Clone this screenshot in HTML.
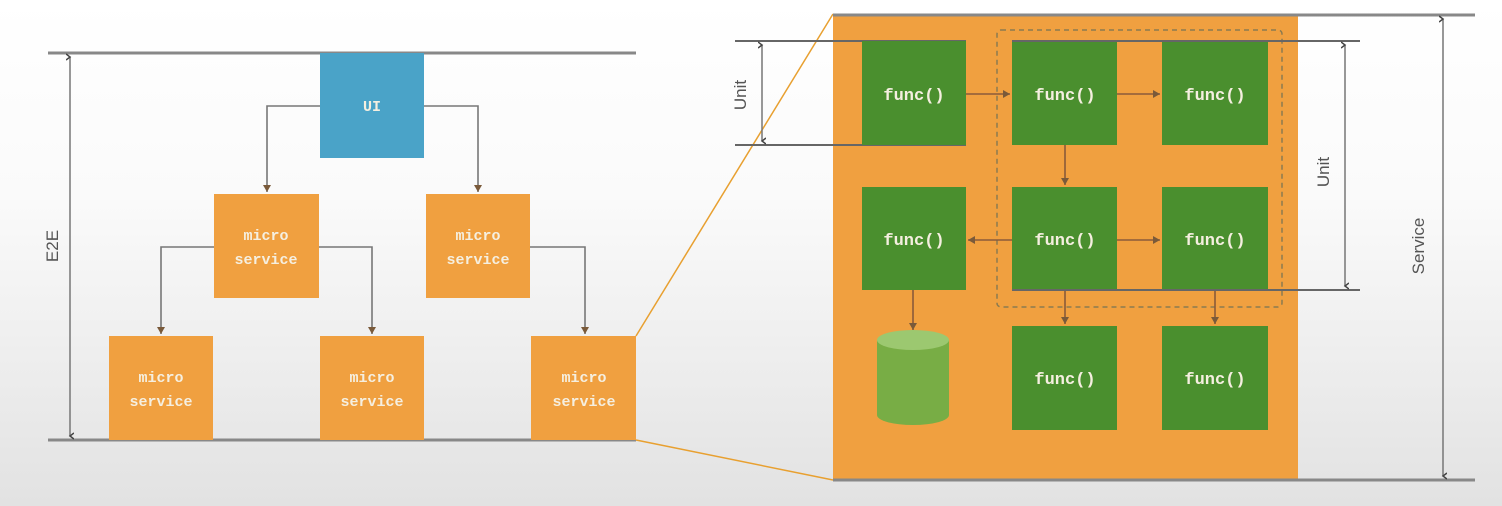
<!DOCTYPE html>
<html><head><meta charset="utf-8"><style>
html,body{margin:0;padding:0;width:1502px;height:506px;overflow:hidden}
body{background:linear-gradient(#ffffff 0%,#fafafa 40%,#e2e2e2 100%)}
svg{display:block}
.mono{font-family:"Liberation Mono",monospace;font-weight:bold;fill:#f5efe0}
.sans{font-family:"Liberation Sans",sans-serif;fill:#555}
</style></head><body>
<svg width="1502" height="506" viewBox="0 0 1502 506">
<defs>
<marker id="a" markerWidth="8" markerHeight="8" refX="4" refY="7" orient="auto-start-reverse" markerUnits="userSpaceOnUse"><path d="M0,0 L4,7 L8,0" fill="none" stroke="#666" stroke-width="1.5"/></marker>
<marker id="g" markerWidth="8" markerHeight="8" refX="7" refY="4" orient="auto" markerUnits="userSpaceOnUse"><path d="M0,0 L7,4 L0,8 Z" fill="#7a5a3a"/></marker>
<marker id="d" markerWidth="8" markerHeight="8" refX="4" refY="4" orient="auto-start-reverse" markerUnits="userSpaceOnUse"><path d="M1,0 L4,4 L7,0" fill="none" stroke="#444" stroke-width="1.5"/></marker>
</defs>
<!-- left section -->
<line x1="48" y1="53" x2="636" y2="53" stroke="#888" stroke-width="3"/>
<line x1="48" y1="440" x2="636" y2="440" stroke="#888" stroke-width="3"/>
<line x1="70" y1="57" x2="70" y2="436" stroke="#777" stroke-width="1.5" marker-start="url(#d)" marker-end="url(#d)"/>
<text class="sans" font-size="17" transform="translate(58,246) rotate(-90)" text-anchor="middle">E2E</text>
<g fill="none" stroke="#777" stroke-width="1.6">
<polyline points="320,106 267,106 267,192" marker-end="url(#g)"/>
<polyline points="424,106 478,106 478,192" marker-end="url(#g)"/>
<polyline points="214,247 161,247 161,334" marker-end="url(#g)"/>
<polyline points="319,247 372,247 372,334" marker-end="url(#g)"/>
<polyline points="530,247 585,247 585,334" marker-end="url(#g)"/>
</g>
<rect x="320" y="53" width="104" height="105" fill="#4aa3c8"/>
<text class="mono" x="372" y="111" font-size="15" text-anchor="middle" fill="#dde">UI</text>
<g fill="#f0a040">
<rect x="214" y="194" width="105" height="104"/><rect x="426" y="194" width="104" height="104"/>
<rect x="109" y="336" width="104" height="104"/><rect x="320" y="336" width="104" height="104"/><rect x="531" y="336" width="105" height="104"/>
</g>
<g class="mono" font-size="15" text-anchor="middle">
<text x="266" y="240">micro</text><text x="266" y="264">service</text>
<text x="478" y="240">micro</text><text x="478" y="264">service</text>
<text x="161" y="382">micro</text><text x="161" y="406">service</text>
<text x="372" y="382">micro</text><text x="372" y="406">service</text>
<text x="584" y="382">micro</text><text x="584" y="406">service</text>
</g>
<line x1="636" y1="336" x2="833" y2="14" stroke="#e8a030" stroke-width="1.5"/>
<line x1="636" y1="440" x2="833" y2="480" stroke="#e8a030" stroke-width="1.5"/>
<!-- right section -->
<rect x="833" y="14" width="465" height="466" fill="#f0a040"/>
<line x1="833" y1="15" x2="1475" y2="15" stroke="#888" stroke-width="3"/>
<line x1="833" y1="480" x2="1475" y2="480" stroke="#888" stroke-width="3"/>
<line x1="1443" y1="19" x2="1443" y2="476" stroke="#777" stroke-width="1.5" marker-start="url(#d)" marker-end="url(#d)"/>
<text class="sans" font-size="17" transform="translate(1424,246) rotate(-90)" text-anchor="middle">Service</text>
<line x1="735" y1="41" x2="966" y2="41" stroke="#666" stroke-width="2"/>
<line x1="735" y1="145" x2="966" y2="145" stroke="#666" stroke-width="2"/>
<line x1="762" y1="45" x2="762" y2="141" stroke="#777" stroke-width="1.5" marker-start="url(#d)" marker-end="url(#d)"/>
<text class="sans" font-size="17" transform="translate(746,95) rotate(-90)" text-anchor="middle">Unit</text>
<rect x="997" y="30" width="285" height="277" rx="4" fill="none" stroke="#8a7a50" stroke-width="1.5" stroke-dasharray="5,4"/>
<g fill="none" stroke="#8a5a3a" stroke-width="1.6">
<line x1="966" y1="94" x2="1010" y2="94" marker-end="url(#g)"/>
<line x1="1117" y1="94" x2="1160" y2="94" marker-end="url(#g)"/>
<line x1="1065" y1="145" x2="1065" y2="185" marker-end="url(#g)"/>
<line x1="1012" y1="240" x2="968" y2="240" marker-end="url(#g)"/>
<line x1="1117" y1="240" x2="1160" y2="240" marker-end="url(#g)"/>
<line x1="1065" y1="290" x2="1065" y2="324" marker-end="url(#g)"/>
<line x1="1215" y1="290" x2="1215" y2="324" marker-end="url(#g)"/>
<line x1="913" y1="290" x2="913" y2="330" marker-end="url(#g)"/>
</g>
<g fill="#4a8f2e">
<rect x="862" y="41" width="104" height="104"/><rect x="1012" y="41" width="105" height="104"/><rect x="1162" y="41" width="106" height="104"/>
<rect x="862" y="187" width="104" height="103"/><rect x="1012" y="187" width="105" height="103"/><rect x="1162" y="187" width="106" height="103"/>
<rect x="1012" y="326" width="105" height="104"/><rect x="1162" y="326" width="106" height="104"/>
</g>
<line x1="1012" y1="41" x2="1360" y2="41" stroke="#666" stroke-width="2"/>
<line x1="1012" y1="290" x2="1360" y2="290" stroke="#666" stroke-width="2"/>
<line x1="1345" y1="45" x2="1345" y2="286" stroke="#777" stroke-width="1.5" marker-start="url(#d)" marker-end="url(#d)"/>
<text class="sans" font-size="17" transform="translate(1329,172) rotate(-90)" text-anchor="middle">Unit</text>
<g class="mono" font-size="17" text-anchor="middle" fill="#e8f5d8">
<text x="914" y="100">func()</text><text x="1065" y="100">func()</text><text x="1215" y="100">func()</text>
<text x="914" y="245">func()</text><text x="1065" y="245">func()</text><text x="1215" y="245">func()</text>
<text x="1065" y="384">func()</text><text x="1215" y="384">func()</text>
</g>
<path d="M877,340 L877,415 A36,10 0 0 0 949,415 L949,340 Z" fill="#78ad45"/>
<ellipse cx="913" cy="340" rx="36" ry="10" fill="#9cc870"/>
</svg>
</body></html>
